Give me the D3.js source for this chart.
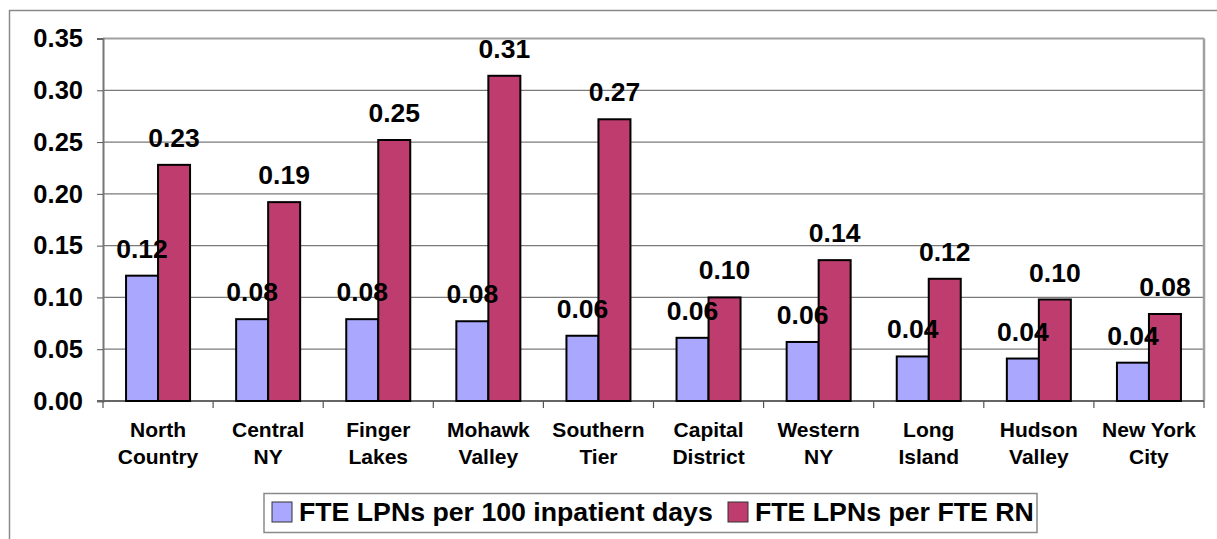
<!DOCTYPE html>
<html>
<head>
<meta charset="utf-8">
<script src="https://cdn.jsdelivr.net/npm/d3@7"></script>
<style>
  body { margin: 0; background: #fff; }
  svg { font-family: "Liberation Sans", Arial, sans-serif; font-weight: bold; }
</style>
</head>
<body>
<div id="chart"></div>
<script>
// data
var regions = [["North", "Country"], ["Central", "NY"], ["Finger", "Lakes"], ["Mohawk", "Valley"],
  ["Southern", "Tier"], ["Capital", "District"], ["Western", "NY"], ["Long", "Island"],
  ["Hudson", "Valley"], ["New York", "City"]];
var perInpatientDays = [0.121, 0.079, 0.079, 0.077, 0.063, 0.061, 0.057, 0.043, 0.041, 0.037];
var perRN = [0.228, 0.192, 0.252, 0.314, 0.272, 0.100, 0.136, 0.118, 0.098, 0.084];
var seriesNames = ["FTE LPNs per 100 inpatient days", "FTE LPNs per FTE RN"];
var seriesColors = ["#aaa8fe", "#bf3d6e"];
var yTicks = [0, 0.05, 0.10, 0.15, 0.20, 0.25, 0.30, 0.35];

var W = 1217, H = 539;
var margin = { top: 38.5, right: 13, bottom: 138, left: 103 };
var width = W - margin.left - margin.right,
    height = H - margin.top - margin.bottom;

var svg = d3.select("#chart").append("svg")
  .attr("width", W).attr("height", H);

// outer chart border
svg.append("rect")
  .attr("x", 9.5).attr("y", 10.5)
  .attr("width", W + 20).attr("height", H + 20)
  .attr("fill", "none").attr("stroke", "#8a8a8a").attr("stroke-width", 1.5);

var g = svg.append("g")
  .attr("transform", "translate(" + margin.left + "," + margin.top + ")");

var keys = regions.map(function (d) { return d.join(" "); });

var x0 = d3.scaleBand().domain(keys).range([0, width]);
var x1 = d3.scaleBand().domain([0, 1])
  .range([(x0.bandwidth() - 64) / 2, (x0.bandwidth() + 64) / 2]);
var y = d3.scaleLinear().domain([0, 0.35]).range([height, 0]);

// gridlines
g.selectAll(".grid").data(yTicks.slice(1))
  .enter().append("line")
  .attr("x1", 0).attr("x2", width)
  .attr("y1", function (d) { return y(d); })
  .attr("y2", function (d) { return y(d); })
  .attr("stroke", function (d) { return d === 0.35 ? "#a0a0a0" : "#7a7a7a"; })
  .attr("stroke-width", function (d) { return d === 0.35 ? 2 : 1.2; });

// right border of plot
g.append("line")
  .attr("x1", width).attr("x2", width).attr("y1", 0).attr("y2", height)
  .attr("stroke", "#a0a0a0").attr("stroke-width", 2.5);

// y axis
var yAxis = g.append("g")
  .call(d3.axisLeft(y).tickValues(yTicks).tickFormat(d3.format(".2f")).tickSize(6).tickPadding(14));
yAxis.select(".domain").attr("stroke", "#777").attr("stroke-width", 2);
yAxis.selectAll(".tick line").attr("stroke", "#555");
yAxis.selectAll("text")
  .attr("font-size", 25.5).attr("font-weight", "bold").attr("fill", "#000")
  .attr("font-family", "Liberation Sans, Arial, sans-serif");

// x axis: ticks at band boundaries
var xAxis = g.append("g").attr("transform", "translate(0," + height + ")");
xAxis.append("line")
  .attr("x1", -6).attr("x2", width).attr("y1", 0).attr("y2", 0)
  .attr("stroke", "#666").attr("stroke-width", 2);
xAxis.selectAll(".xt").data(keys.concat(["end"]))
  .enter().append("line")
  .attr("x1", function (d, i) { return i * x0.step(); })
  .attr("x2", function (d, i) { return i * x0.step(); })
  .attr("y1", 0).attr("y2", 7)
  .attr("stroke", "#555").attr("stroke-width", 1.2);

var cat = xAxis.selectAll(".cat").data(regions)
  .enter().append("text")
  .attr("text-anchor", "middle")
  .attr("font-size", 21)
  .attr("transform", function (d, i) {
    return "translate(" + (x0(keys[i]) + x0.bandwidth() / 2) + ",0)";
  });
cat.append("tspan").attr("x", 0).attr("y", 36).text(function (d) { return d[0]; });
cat.append("tspan").attr("x", 0).attr("y", 63).text(function (d) { return d[1]; });

// bars
var rows = keys.map(function (k, i) { return { key: k, vals: [perInpatientDays[i], perRN[i]] }; });
var groups = g.selectAll(".grp").data(rows)
  .enter().append("g")
  .attr("transform", function (d) { return "translate(" + x0(d.key) + ",0)"; });

groups.selectAll("rect").data(function (d) { return d.vals; })
  .enter().append("rect")
  .attr("x", function (d, i) { return x1(i); })
  .attr("width", x1.bandwidth())
  .attr("y", function (d) { return y(d); })
  .attr("height", function (d) { return height - y(d); })
  .attr("fill", function (d, i) { return seriesColors[i]; })
  .attr("stroke", "#000").attr("stroke-width", 2);

// value labels
groups.selectAll(".lbl").data(function (d) { return d.vals; })
  .enter().append("text")
  .attr("text-anchor", "middle")
  .attr("font-size", 26.5)
  .attr("x", function (d, i) { return x1(i) + x1.bandwidth() / 2; })
  .attr("y", function (d) { return y(d) - 18; })
  .text(function (d) { return d3.format(".2f")(d); });

// legend
var legend = svg.append("g");
legend.append("rect")
  .attr("x", 264).attr("y", 493.5).attr("width", 773).attr("height", 39)
  .attr("fill", "#fff").attr("stroke", "#8a8a8a").attr("stroke-width", 1.5);
var lx = [272, 728];
var items = legend.selectAll(".li").data(seriesNames)
  .enter().append("g")
  .attr("transform", function (d, i) { return "translate(" + lx[i] + ",502)"; });
items.append("rect")
  .attr("width", 20).attr("height", 20)
  .attr("fill", function (d, i) { return seriesColors[i]; })
  .attr("stroke", "#333").attr("stroke-width", 1);
items.append("text")
  .attr("x", 27).attr("y", 19)
  .attr("font-size", 26.7)
  .text(function (d) { return d; });
</script>
</body>
</html>
